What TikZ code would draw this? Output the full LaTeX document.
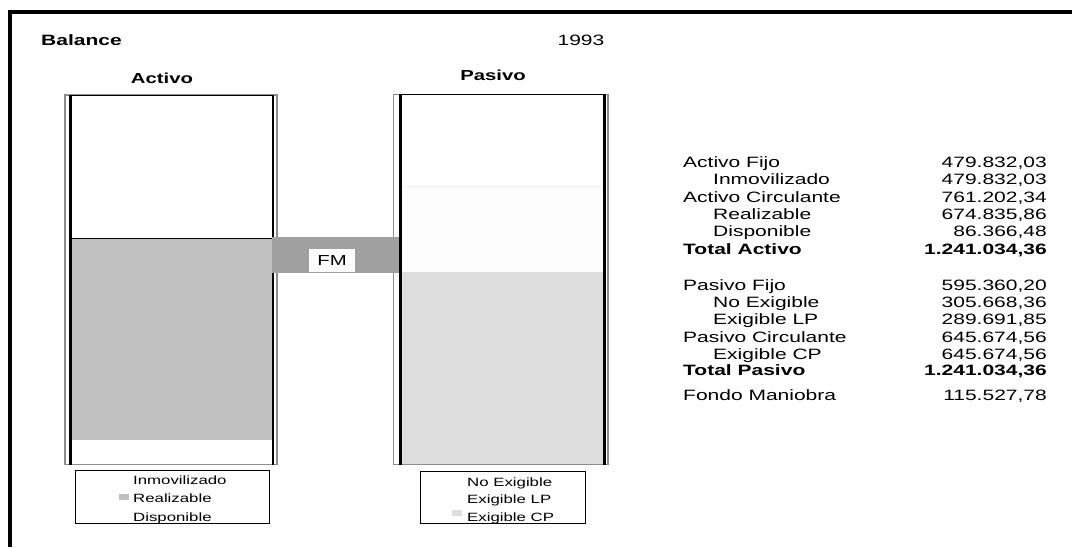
\documentclass[tikz,border=0pt]{standalone}
\usepackage{fontspec}
\setmainfont{Liberation Sans}[FakeStretch=1.4]
\definecolor{realiz}{HTML}{C0C0C0}
\definecolor{excp}{HTML}{DDDDDD}
\definecolor{exlp}{HTML}{FDFDFD}
\definecolor{faintline}{HTML}{EEEEEE}
\definecolor{fmgray}{HTML}{A0A0A0}
\definecolor{outergray}{HTML}{8C8C8C}
\begin{document}
\begin{tikzpicture}[x=1pt,y=-1pt,
  lab/.style={anchor=base west, inner sep=0pt, font=\fontsize{15}{17}\selectfont},
  val/.style={anchor=base east, inner sep=0pt, font=\fontsize{15}{17}\selectfont},
  blab/.style={lab, font=\fontsize{15}{17}\selectfont\bfseries},
  bval/.style={val, font=\fontsize{15}{17}\selectfont\bfseries},
  leg/.style={anchor=base west, inner sep=0pt, font=\fontsize{12}{14}\selectfont},
  title/.style={anchor=base, inner sep=0pt, font=\fontsize{14.5}{16}\selectfont\bfseries},
  outer/.style={draw=outergray, line width=1.2pt},
  thick/.style={line width=2.6pt},
  thin/.style={line width=0.8pt}]
\useasboundingbox (0,0) rectangle (1072,547);
\fill[white] (0,0) rectangle (1072,547);
% frame
\draw[line width=3.8pt] (9.7,547) -- (9.7,12) -- (1072,12);
% titles
\node[anchor=base west, inner sep=0pt, font=\fontsize{15}{17}\selectfont\bfseries] (bal) at (41,45.5) {Balance};
\node[anchor=base, inner sep=0pt, font=\fontsize{15}{17}\selectfont] (year) at (581,45.5) {1993};
\node[title] (tact) at (162,83.5) {Activo};
\node[title] (tpas) at (493,80.5) {Pasivo};
% Activo column
\fill[realiz] (71.5,238) rectangle (272,440);
\draw[outer] (65,95) rectangle (277,464.5);
\draw[thin] (70.5,95.4) -- (273,95.4);
\draw[thin] (71.5,238) -- (272,238);
\draw[thick] (70.5,95) -- (70.5,464.5);
\draw[thick] (273,95) -- (273,464.5);
% Pasivo column
\fill[exlp] (401.7,186) rectangle (602.7,272);
\fill[excp] (401.7,272) rectangle (602.7,464.5);
\draw[faintline, line width=0.6pt] (401.7,186) -- (602.7,186);
\draw[outer] (393.5,94.3) rectangle (608,464.5);
% FM band
\fill[fmgray] (272.3,237) rectangle (399.3,272.5);
\draw[thin] (400.5,94.7) -- (604.3,94.7);
\draw[thick] (400.5,94.3) -- (400.5,464.5);
\draw[thick] (604.3,94.3) -- (604.3,464.5);
\node[fill=white, inner sep=0pt, minimum width=46pt, minimum height=22.5pt,
  font=\fontsize{14.5}{16}\selectfont] (fm) at (332,260.3) {FM};
% legends
\draw[thin] (75,470) rectangle (269,523);
\fill[realiz] (119,494) rectangle (129,500);
\node[leg] (l1) at (133,484.5) {Inmovilizado};
\node[leg] (l2) at (133,502.5) {Realizable};
\node[leg] (l3) at (133,521) {Disponible};
\draw[thin] (420,471) rectangle (585,523);
\fill[excp] (452,510) rectangle (462,516);
\node[leg] (p1) at (467,486) {No Exigible};
\node[leg] (p2) at (467,503.5) {Exigible LP};
\node[leg] (p3) at (467,521) {Exigible CP};
% table
\node[lab]  (r1l) at (683,167.5) {Activo Fijo};          \node[val]  (r1v) at (1047,167.5) {479.832,03};
\node[lab]  (r2l) at (713,184.8) {Inmovilizado};       \node[val]  (r2v) at (1047,184.8) {479.832,03};
\node[lab]  (r3l) at (683,202.1) {Activo Circulante};  \node[val]  (r3v) at (1047,202.1) {761.202,34};
\node[lab]  (r4l) at (713,219.4) {Realizable};         \node[val]  (r4v) at (1047,219.4) {674.835,86};
\node[lab]  (r5l) at (713,236.7) {Disponible};         \node[val]  (r5v) at (1047,236.7) {86.366,48};
\node[blab] (r6l) at (683,254) {Total Activo};       \node[bval] (r6v) at (1047,254) {1.241.034,36};
\node[lab]  (s1l) at (683,290.5) {Pasivo Fijo};          \node[val]  (s1v) at (1047,290.5) {595.360,20};
\node[lab]  (s2l) at (713,307.7) {No Exigible};        \node[val]  (s2v) at (1047,307.7) {305.668,36};
\node[lab]  (s3l) at (713,324.9) {Exigible LP};        \node[val]  (s3v) at (1047,324.9) {289.691,85};
\node[lab]  (s4l) at (683,342.1) {Pasivo Circulante};  \node[val]  (s4v) at (1047,342.1) {645.674,56};
\node[lab]  (s5l) at (713,359.3) {Exigible CP};        \node[val]  (s5v) at (1047,359.3) {645.674,56};
\node[blab] (s6l) at (683,375.5) {Total Pasivo};         \node[bval] (s6v) at (1047,375.5) {1.241.034,36};
\node[lab]  (fml) at (683,400.5) {Fondo Maniobra};       \node[val]  (fmv) at (1047,400.5) {115.527,78};
\end{tikzpicture}
\end{document}
